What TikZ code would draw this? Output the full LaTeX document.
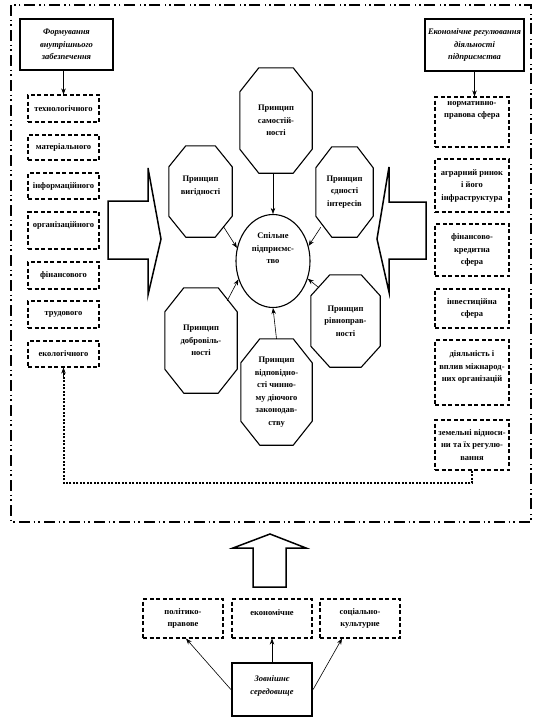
\documentclass[tikz,border=0pt]{standalone}
\usepackage{fontspec}
\setmainfont{Liberation Serif}
\usetikzlibrary{calc,arrows.meta,shapes.geometric}
\newcommand\octoutline[3]{%
  \draw[octline] ([xshift=#2]#1.north west) -- ([xshift=-#2]#1.north east) -- ([yshift=-#3]#1.north east) -- ([yshift=#3]#1.south east) -- ([xshift=-#2]#1.south east) -- ([xshift=#2]#1.south west) -- ([yshift=#3]#1.south west) -- ([yshift=-#3]#1.north west) -- cycle;}
\begin{document}
\begin{tikzpicture}[x=1pt,y=-1pt,
  txt/.style={font=\fontsize{8.5}{12.5}\selectfont\bfseries, align=center, text=black},
  dbox/.style={txt, draw, line width=1.1pt, dash pattern=on 4pt off 2.5pt, inner sep=1pt},
  tbox/.style={draw, line width=2.2pt, font=\fontsize{8.5}{12.5}\selectfont\bfseries\itshape, align=center, inner sep=1pt},
  octo/.style={txt, inner sep=0pt},
  octline/.style={line width=1.1pt},
  ellnode/.style={txt, ellipse, draw, line width=1.1pt, inner sep=0pt, minimum width=74pt, minimum height=93pt},
  arr/.style={-{Stealth[length=6pt,width=4.5pt]}, line width=0.6pt},
  framestyle/.style={line width=1.8pt, dash pattern=on 11pt off 3.5pt on 1.5pt off 3pt on 1.5pt off 4.5pt},
  dotline/.style={line width=2pt, dash pattern=on 2pt off 1.5pt},
  blockarrow/.style={line width=1.5pt, line join=miter}
]
\useasboundingbox (0,0) rectangle (537,723);
% outer frame
\draw[framestyle] (11,5) rectangle (531,522);

% title boxes
\node[tbox, minimum width=93pt, minimum height=51pt] (ltitle) at (66.5,44.5) {Формування\\внутрішнього\\забезпечення};
\node[tbox, minimum width=99pt, minimum height=52pt] (rtitle) at (474.5,45) {Економічне регулювання\\діяльності\\підприємства};

% left boxes
\node[dbox, minimum width=71pt, minimum height=27pt] (tech) at (63.5,108.5) {технологічного};
\node[dbox, minimum width=71pt, minimum height=25pt] (mat) at (63.5,147.5) {матеріального};
\node[dbox, minimum width=71pt, minimum height=26pt] (info) at (63.5,186) {інформаційного};
\node[dbox, minimum width=71pt, minimum height=37pt] (org) at (63.5,230.5) {організаційного\\~};
\node[dbox, minimum width=71pt, minimum height=27pt] (fin) at (63.5,275.5) {фінансового};
\node[dbox, minimum width=71pt, minimum height=27pt] (trud) at (63.5,314.5) {трудового};
\node[dbox, minimum width=71pt, minimum height=26pt] (eco) at (63.5,354) {екологічного};

% right boxes
\node[dbox, minimum width=74pt, minimum height=50pt] (norm) at (472,122) {нормативно-\\правова сфера\\~\\~};
\node[dbox, minimum width=74pt, minimum height=53pt] (agr) at (472,185.5) {аграрний ринок\\і його\\інфраструктура};
\node[dbox, minimum width=74pt, minimum height=52pt] (fk) at (472,250) {фінансово-\\кредитна\\сфера};
\node[dbox, minimum width=74pt, minimum height=39pt] (inv) at (472,308.5) {інвестиційна\\сфера};
\node[dbox, minimum width=74pt, minimum height=65pt] (dial) at (472,372.5) {діяльність і\\вплив міжнарод-\\них організацій\\~};
\node[dbox, minimum width=74pt, minimum height=50pt] (zem) at (472,445) {земельні відноси-\\ни та їх регулю-\\вання};

% title arrows
\draw[arr] (ltitle.south -| tech.north) -- (tech.north);
\draw[arr] (rtitle.south) -- (rtitle.south |- norm.north);

% dotted connector
\draw[dotline] (zem.south) -- (zem.south |- 0,483) -| ($(eco.south)+(0,5)$);
\draw[arr] ($(eco.south)+(0,10)$) -- (eco.south);

% block arrows
\draw[blockarrow] (108,201) -- (148,201) -- (148,168) -- (161,239) -- (148,295) -- (148,259) -- (108,259) -- cycle;
\draw[blockarrow] (426,202) -- (389,202) -- (389,167) -- (377,239) -- (389,292) -- (389,259) -- (426,259) -- cycle;
\draw[blockarrow] (253,587) -- (253,548) -- (233,548) -- (270,534) -- (306,548) -- (286,548) -- (286,587) -- cycle;

% ellipse
\node[ellnode] (ell) at (273,261) {Спільне\\підприємс-\\тво\\~\\~};

% octagons
\node[octo, minimum width=72pt, minimum height=105pt] (sam) at (276,120.5) {Принцип\\самостій-\\ності};
\octoutline{sam}{19pt}{24pt}
\node[octo, minimum width=63pt, minimum height=91pt] (vyg) at (200.5,191.5) {Принцип\\вигідності\\~};
\octoutline{vyg}{17pt}{21pt}
\node[octo, minimum width=57pt, minimum height=90pt] (ed) at (344.5,192) {Принцип\\єдності\\інтересів};
\octoutline{ed}{16pt}{21pt}
\node[octo, minimum width=72pt, minimum height=105pt] (dobr) at (201,340.5) {Принцип\\добровіль-\\ності};
\octoutline{dobr}{19pt}{24pt}
\node[octo, minimum width=69pt, minimum height=92pt] (rivn) at (345.5,321) {Принцип\\рівноправ-\\ності};
\octoutline{rivn}{19pt}{21pt}
\node[octo, minimum width=71pt, minimum height=106pt] (vidp) at (276.5,392) {Принцип\\відповідно-\\сті чинно-\\му діючого\\законодав-\\ству};
\octoutline{vidp}{19pt}{24pt}

% principle arrows
\draw[arr] (sam.south -| ell.north) -- (ell.north);
\draw[arr] ($(vyg.south east)+(-9,-11)$) -- (ell.160);
\draw[arr] ($(ed.south west)+(5,-10)$) -- (ell.23);
\draw[arr] ($(dobr.north east)+(-10,13)$) -- (ell.208);
\draw[arr] ($(rivn.north west)+(7,12)$) -- (ell.333);
\draw[arr] (vidp.north) -- (ell.south);

% bottom
\node[dbox, minimum width=80pt, minimum height=39pt] (pol) at (183,618.5) {політико-\\правове};
\node[dbox, minimum width=80pt, minimum height=39pt] (econ) at (272,618.5) {економічне\\~};
\node[dbox, minimum width=80pt, minimum height=39pt] (soc) at (360,618.5) {соціально-\\культурне};
\node[tbox, minimum width=80pt, minimum height=53pt] (zovn) at (272,689.5) {Зовнішнє\\середовище\\[-4pt]~};

\draw[arr] (zovn.west) -- ([xshift=3pt]pol.south);
\draw[arr] (zovn.north) -- (econ.south);
\draw[arr] (zovn.east) -- ([xshift=-18pt]soc.south);
\end{tikzpicture}
\end{document}
